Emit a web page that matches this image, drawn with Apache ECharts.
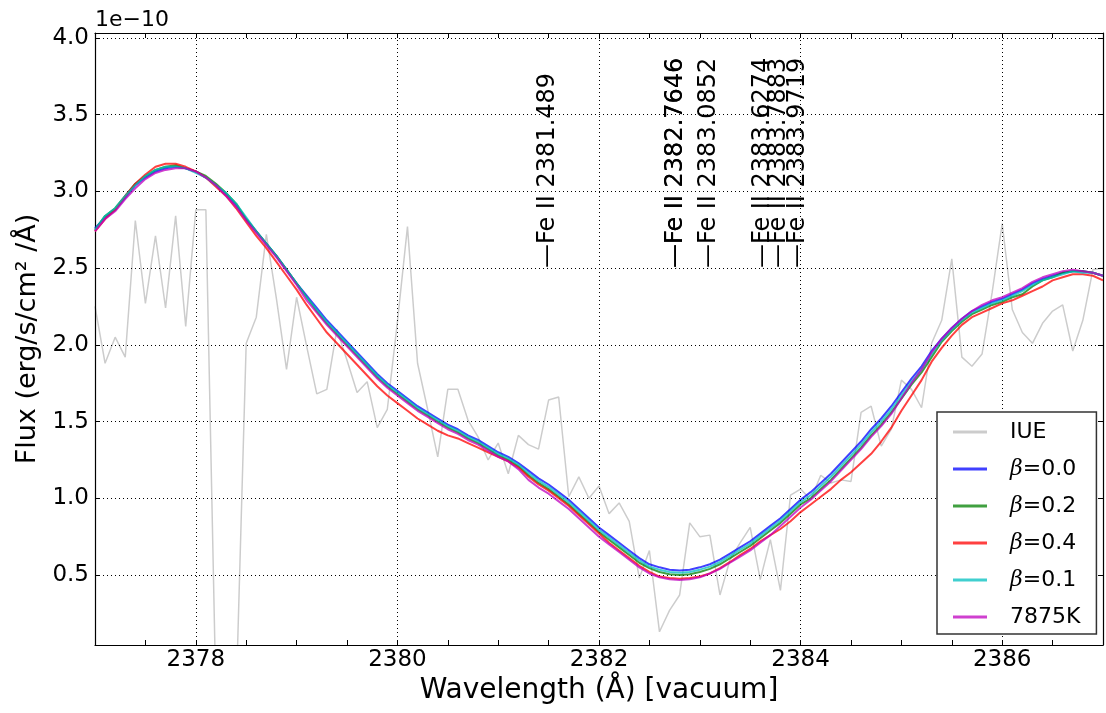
<!DOCTYPE html>
<html>
<head>
<meta charset="utf-8">
<script src="https://cdn.jsdelivr.net/npm/echarts@6/dist/echarts.min.js"></script>
<style>
html,body{margin:0;padding:0;background:#fff;}
#chart{width:1106px;height:713px;}
</style>
</head>
<body>
<div id="chart"></div>
<script>
// Wavelength grid (Å)
const wave = [2377.0,2377.1,2377.2,2377.3,2377.4,2377.5,2377.6,2377.7,2377.8,2377.9,
2378.0,2378.1,2378.2,2378.3,2378.4,2378.5,2378.6,2378.7,2378.8,2378.9,
2379.0,2379.1,2379.2,2379.3,2379.4,2379.5,2379.6,2379.7,2379.8,2379.9,
2380.0,2380.1,2380.2,2380.3,2380.4,2380.5,2380.6,2380.7,2380.8,2380.9,
2381.0,2381.1,2381.2,2381.3,2381.4,2381.5,2381.6,2381.7,2381.8,2381.9,
2382.0,2382.1,2382.2,2382.3,2382.4,2382.5,2382.6,2382.7,2382.8,2382.9,
2383.0,2383.1,2383.2,2383.3,2383.4,2383.5,2383.6,2383.7,2383.8,2383.9,
2384.0,2384.1,2384.2,2384.3,2384.4,2384.5,2384.6,2384.7,2384.8,2384.9,
2385.0,2385.1,2385.2,2385.3,2385.4,2385.5,2385.6,2385.7,2385.8,2385.9,
2386.0,2386.1,2386.2,2386.3,2386.4,2386.5,2386.6,2386.7,2386.8,2386.9,2387.0];

// Flux in units of 1e-10 erg/s/cm^2/Å
const iue = [2.25,1.88,2.05,1.92,2.81,2.27,2.71,2.24,2.84,2.12,
2.88,2.88,-0.3,-0.8,-0.3,2.01,2.18,2.72,2.30,1.84,
2.31,1.99,1.68,1.71,2.10,1.90,1.69,1.76,1.46,1.58,
2.15,2.77,1.88,1.58,1.27,1.71,1.71,1.51,1.40,1.25,
1.36,1.16,1.41,1.35,1.32,1.64,1.66,1.01,1.14,1.00,
1.08,0.90,0.97,0.85,0.48,0.66,0.13,0.27,0.37,0.84,
0.75,0.76,0.37,0.60,0.71,0.81,0.47,0.73,0.40,1.02,
1.06,0.99,1.15,1.10,1.12,1.11,1.56,1.60,1.34,1.45,
1.77,1.71,1.59,2.01,2.16,2.56,1.92,1.86,1.94,2.34,
2.79,2.23,2.08,2.01,2.14,2.22,2.26,1.96,2.16,2.49,2.50];

const beta00 = [2.76,2.83,2.88,2.96,3.04,3.09,3.13,3.15,3.16,3.15,
3.13,3.09,3.04,2.98,2.91,2.82,2.74,2.66,2.58,2.49,
2.40,2.32,2.24,2.16,2.09,2.02,1.95,1.88,1.81,1.75,
1.70,1.65,1.60,1.56,1.52,1.48,1.45,1.41,1.38,1.34,
1.30,1.27,1.23,1.18,1.13,1.09,1.04,0.99,0.93,0.87,
0.81,0.76,0.71,0.66,0.61,0.57,0.55,0.535,0.53,0.535,
0.55,0.57,0.60,0.64,0.68,0.72,0.77,0.82,0.87,0.93,
0.99,1.04,1.10,1.16,1.23,1.30,1.37,1.45,1.52,1.60,
1.69,1.78,1.86,1.96,2.04,2.11,2.17,2.22,2.25,2.28,
2.30,2.33,2.36,2.40,2.43,2.45,2.47,2.48,2.48,2.47,2.45];

const beta02 = [2.75,2.84,2.89,2.97,3.05,3.10,3.14,3.16,3.17,3.15,
3.13,3.10,3.05,2.99,2.92,2.82,2.74,2.66,2.58,2.49,
2.40,2.31,2.22,2.14,2.07,2.00,1.93,1.86,1.79,1.73,
1.68,1.63,1.58,1.54,1.50,1.46,1.43,1.39,1.36,1.32,
1.28,1.25,1.21,1.15,1.10,1.06,1.01,0.96,0.90,0.84,
0.78,0.73,0.68,0.63,0.58,0.545,0.52,0.505,0.50,0.505,
0.52,0.54,0.57,0.61,0.65,0.69,0.74,0.79,0.84,0.90,
0.96,1.00,1.06,1.12,1.19,1.26,1.33,1.41,1.48,1.56,
1.65,1.74,1.82,1.92,2.02,2.09,2.15,2.20,2.23,2.26,
2.28,2.31,2.33,2.38,2.42,2.44,2.47,2.48,2.48,2.47,2.45];

const beta04 = [2.74,2.82,2.88,2.97,3.05,3.11,3.16,3.18,3.18,3.16,
3.13,3.09,3.03,2.97,2.89,2.80,2.71,2.63,2.54,2.45,
2.36,2.26,2.17,2.08,2.01,1.94,1.87,1.80,1.73,1.67,
1.62,1.57,1.52,1.48,1.44,1.41,1.39,1.36,1.33,1.30,
1.27,1.24,1.20,1.14,1.09,1.05,1.00,0.95,0.89,0.83,
0.77,0.71,0.66,0.61,0.56,0.52,0.49,0.48,0.475,0.48,
0.49,0.51,0.545,0.585,0.63,0.67,0.72,0.76,0.80,0.85,
0.91,0.96,1.01,1.06,1.12,1.17,1.23,1.29,1.37,1.46,
1.57,1.67,1.77,1.89,1.98,2.06,2.13,2.18,2.21,2.24,
2.27,2.29,2.32,2.35,2.38,2.42,2.44,2.46,2.46,2.45,2.42];

const beta01 = [2.75,2.84,2.89,2.97,3.04,3.10,3.14,3.16,3.16,3.15,
3.12,3.09,3.04,2.99,2.92,2.83,2.74,2.66,2.58,2.49,
2.40,2.31,2.23,2.15,2.08,2.01,1.94,1.87,1.80,1.74,
1.69,1.64,1.59,1.55,1.51,1.47,1.44,1.40,1.37,1.33,
1.29,1.26,1.22,1.165,1.115,1.075,1.025,0.975,0.915,0.855,
0.795,0.745,0.695,0.645,0.595,0.555,0.535,0.52,0.515,0.52,
0.535,0.555,0.585,0.625,0.665,0.705,0.755,0.805,0.855,0.915,
0.975,1.02,1.08,1.14,1.21,1.28,1.35,1.43,1.50,1.58,
1.67,1.76,1.84,1.94,2.03,2.10,2.16,2.21,2.24,2.27,
2.29,2.32,2.35,2.39,2.42,2.44,2.46,2.48,2.47,2.47,2.45];

const t7875 = [2.74,2.82,2.87,2.95,3.02,3.08,3.12,3.14,3.15,3.15,
3.13,3.09,3.04,2.97,2.90,2.81,2.73,2.65,2.57,2.48,
2.39,2.29,2.21,2.13,2.06,1.99,1.92,1.85,1.78,1.72,
1.67,1.62,1.57,1.53,1.49,1.45,1.42,1.38,1.35,1.31,
1.27,1.24,1.19,1.12,1.07,1.03,0.98,0.93,0.87,0.81,
0.75,0.70,0.65,0.60,0.55,0.51,0.485,0.472,0.468,0.472,
0.485,0.51,0.54,0.58,0.62,0.66,0.71,0.76,0.82,0.88,
0.94,0.99,1.05,1.11,1.18,1.25,1.32,1.40,1.47,1.55,
1.65,1.75,1.84,1.95,2.04,2.11,2.17,2.22,2.26,2.29,
2.31,2.34,2.37,2.41,2.44,2.46,2.48,2.49,2.48,2.47,2.45];

// Line identifications
const lineWaves  = [2381.489, 2382.7646, 2382.7646, 2383.0852, 2383.6274, 2383.7883, 2383.9719];
const lineLabels = ['Fe II 2381.489','Fe II 2382.7646','Fe II 2382.7646','Fe II 2383.0852','Fe II 2383.6274','Fe II 2383.7883','Fe II 2383.9719'];
const lineLabelFlux = 2.5;

// Ticks
const xGridLines = [2378, 2380, 2382, 2384, 2386];
const yTicks = [0.5, 1.0, 1.5, 2.0, 2.5, 3.0, 3.5, 4.0];

const seriesNames = ['IUE', 'β=0.0', 'β=0.2', 'β=0.4', 'β=0.1', '7875K'];
const seriesColors = ['rgba(0,0,0,0.2)', 'rgba(0,0,255,0.75)', 'rgba(0,128,0,0.75)', 'rgba(255,0,0,0.75)', 'rgba(0,191,191,0.75)', 'rgba(191,0,191,0.75)'];
const seriesValues = [iue, beta00, beta02, beta04, beta01, t7875];

const FONT = 'DejaVu Sans';
const chart = echarts.init(document.getElementById('chart'), null, {renderer: 'canvas'});

const lineSeries = seriesNames.map((name, k) => ({
  name: name,
  type: 'line',
  data: wave.map((w, i) => [w, seriesValues[k][i]]),
  showSymbol: false,
  symbol: 'none',
  clip: true,
  lineStyle: {color: seriesColors[k], width: k === 0 ? 1.5 : 2},
  itemStyle: {color: seriesColors[k]},
  z: 3 + k,
  animation: false
}));

const gridSeries = {
  type: 'line',
  name: '_grid',
  data: [],
  silent: true,
  z: 1,
  markLine: {
    silent: true,
    symbol: ['none', 'none'],
    label: {show: false},
    animation: false,
    lineStyle: {type: [1, 3], color: '#000', width: 1},
    data: xGridLines.map(v => ({xAxis: v})).concat(yTicks.map(v => ({yAxis: v})))
  }
};

const annotSeries = {
  type: 'scatter',
  name: '_lines',
  data: lineWaves.map((w, i) => [w, lineLabelFlux, lineLabels[i]]),
  symbolSize: 0.5,
  itemStyle: {color: '#000', opacity: 1},
  silent: true,
  z: 20,
  label: {
    show: true,
    position: 'inside',
    rotate: 90,
    align: 'left',
    verticalAlign: 'middle',
    color: '#000',
    opacity: 1,
    textBorderWidth: 0,
    fontFamily: FONT,
    fontSize: 24,
    formatter: p => '\u2014' + p.data[2]
  },
  animation: false
};

const axisCommon = {
  type: 'value',
  axisLine: {show: true, onZero: false, lineStyle: {color: '#000', width: 1.2}},
  splitLine: {show: false}
};

chart.setOption({
  animation: false,
  backgroundColor: '#fff',
  grid: {left: 95, top: 33, width: 1012, height: 612, containLabel: false},
  xAxis: [
    Object.assign({}, axisCommon, {
      position: 'bottom', min: 2377, max: 2387, interval: 0.5,
      axisTick: {show: true, inside: true, length: 5, lineStyle: {color: '#000'}},
      axisLabel: {show: true, margin: 4, fontFamily: FONT, fontSize: 23, color: '#000',
        formatter: v => (Math.abs(v % 2) < 1e-9 ? String(v) : '')},
      name: 'Wavelength (Å) [vacuum]', nameLocation: 'middle', nameGap: 31,
      nameTextStyle: {fontFamily: FONT, fontSize: 28, color: '#000'}
    }),
    Object.assign({}, axisCommon, {
      position: 'top', min: 2377, max: 2387, interval: 0.5,
      axisTick: {show: true, inside: true, length: 5, lineStyle: {color: '#000'}},
      axisLabel: {show: false}
    })
  ],
  yAxis: [
    Object.assign({}, axisCommon, {
      position: 'left', min: 0.044, max: 4.032,
      axisTick: {show: true, inside: true, length: 5, customValues: yTicks, lineStyle: {color: '#000'}},
      axisLabel: {show: true, margin: 6, customValues: yTicks, fontFamily: FONT, fontSize: 23, color: '#000',
        formatter: v => v.toFixed(1)},
      name: 'Flux (erg/s/cm² /Å)', nameLocation: 'middle', nameGap: 54,
      nameTextStyle: {fontFamily: FONT, fontSize: 27, color: '#000'}
    }),
    Object.assign({}, axisCommon, {
      position: 'right', min: 0.044, max: 4.032,
      axisTick: {show: true, inside: true, length: 5, customValues: yTicks, lineStyle: {color: '#000'}},
      axisLabel: {show: false}
    })
  ],
  legend: {
    data: seriesNames,
    orient: 'vertical',
    left: 937, top: 412,
    padding: [7, 16, 4, 16],
    icon: 'rect',
    itemWidth: 34, itemHeight: 3, itemGap: 11,
    backgroundColor: '#fff',
    borderColor: '#333', borderWidth: 1.5, borderRadius: 0,
    selectedMode: false,
    textStyle: {
      fontFamily: FONT, fontSize: 22, color: '#000', lineHeight: 26,
      rich: {
        sp: {width: 18},
        i: {fontStyle: 'italic', fontFamily: 'DejaVu Serif', fontSize: 22, color: '#000'},
        n: {fontFamily: FONT, fontSize: 22, color: '#000'}
      }
    },
    formatter: name => '{sp|}' + (name.indexOf('β') === 0 ? '{i|β}{n|' + name.slice(1) + '}' : '{n|' + name + '}'),
    z: 50
  },
  graphic: [{
    type: 'text', left: 95, top: 9,
    style: {text: '1e\u221210', font: '22px "DejaVu Sans"', fill: '#000'}
  }],
  series: [gridSeries].concat(lineSeries).concat([annotSeries])
});
</script>
</body>
</html>
